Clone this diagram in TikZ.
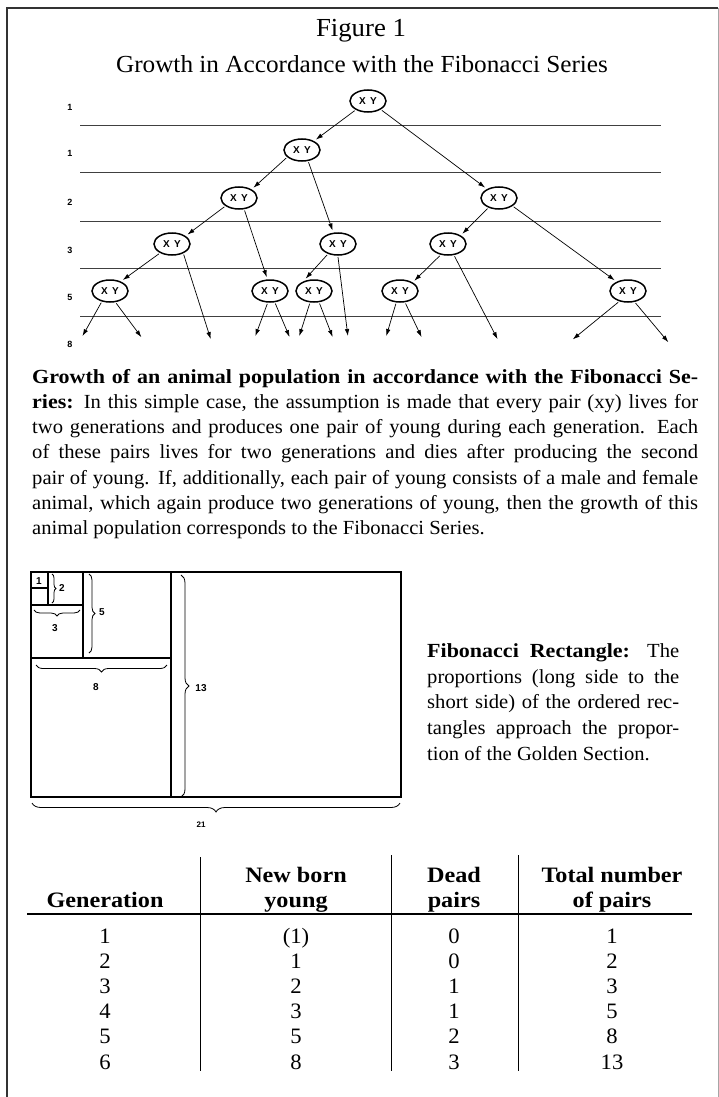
\documentclass[tikz,border=0pt]{standalone}
\usepackage{fontspec}
\setmainfont{Liberation Serif}[FakeStretch=1.03, BoldFeatures={FakeStretch=1.1}]
\newfontfamily\lsans{Liberation Sans}
\usetikzlibrary{shapes.geometric,arrows.meta,decorations.pathreplacing}
\tikzset{
  pair/.style={ellipse, draw, line width=1.5pt, minimum width=36pt, minimum height=22pt,
    inner sep=0pt, outer sep=2pt, font=\lsans\bfseries\fontsize{10}{10}\selectfont},
  arr/.style={line width=0.7pt, -{Latex[length=7pt,width=4.5pt]}, shorten >=1pt},
  genline/.style={line width=0.9pt, black!75},
  rowlab/.style={font=\lsans\bfseries\fontsize{9}{9}\selectfont, inner sep=0pt},
  rectline/.style={line width=1.8pt},
  brc/.style={decorate, decoration={brace, amplitude=#1}, line width=0.8pt},
  rlab/.style={font=\lsans\bfseries\fontsize{10}{10}\selectfont, inner sep=0pt},
  ptext/.style={anchor=base west, inner sep=0pt, font=\fontsize{20}{26}\selectfont},
  rtext/.style={anchor=base west, inner sep=0pt, font=\fontsize{20}{25}\selectfont},
  thead/.style={anchor=base, inner sep=0pt, font=\bfseries\fontsize{22}{24}\selectfont},
  tnum/.style={anchor=base, inner sep=0pt, font=\fontsize{22}{22}\selectfont},
}
\begin{document}
\begin{tikzpicture}[x=1pt,y=-1pt]
\useasboundingbox (0,0) rectangle (719,1097);
% frame
\draw[line width=1.3pt, black!80] (7,1097) -- (7,8) -- (718,8);
\draw[line width=0.6pt, black!35] (718,8) -- (718,1097);
% titles
\node[anchor=base, inner sep=0pt, font=\fontsize{26}{26}\selectfont] (fig) at (361,37) {Figure 1};
\node[anchor=base, inner sep=0pt, font=\fontsize{24.5}{24.5}\selectfont] (sub) at (362,73) {Growth in Accordance with the Fibonacci Series};
% generation lines
\foreach \yy in {125,172,221,268,316} \draw[genline] (80,\yy) -- (661,\yy);
% row labels
\node[rowlab] (r1) at (70,107) {1};
\node[rowlab] (r2) at (70,153) {1};
\node[rowlab] (r3) at (70,202) {2};
\node[rowlab] (r4) at (70,250) {3};
\node[rowlab] (r5) at (70,297) {5};
\node[rowlab] (r6) at (70,344) {8};
% pairs
\node[pair] (L0) at (368,101) {X\hspace{0.45em}Y};
\node[pair] (L1) at (302,150) {X\hspace{0.45em}Y};
\node[pair] (L2a) at (239,198) {X\hspace{0.45em}Y};
\node[pair] (L2b) at (499,198) {X\hspace{0.45em}Y};
\node[pair] (L3a) at (172,244) {X\hspace{0.45em}Y};
\node[pair] (L3b) at (338,244) {X\hspace{0.45em}Y};
\node[pair] (L3c) at (448,244) {X\hspace{0.45em}Y};
\node[pair] (L4a) at (110,291) {X\hspace{0.45em}Y};
\node[pair] (L4b) at (270,291) {X\hspace{0.45em}Y};
\node[pair] (L4c) at (314,291) {X\hspace{0.45em}Y};
\node[pair] (L4d) at (400,291) {X\hspace{0.45em}Y};
\node[pair] (L4e) at (628,291) {X\hspace{0.45em}Y};
% free ends
\coordinate (e1) at (211,340);
\coordinate (e2) at (348,337);
\coordinate (e3) at (498,340);
\coordinate (e4) at (82,337);
\coordinate (e5) at (142,338);
\coordinate (e6) at (255,337);
\coordinate (e7) at (290,338);
\coordinate (e8) at (299,337);
\coordinate (e9) at (333,338);
\coordinate (e10) at (386,337);
\coordinate (e11) at (422,338);
\coordinate (e12) at (572,340);
\coordinate (e13) at (669,343);
% arrows
\draw[arr] (L0.-144) -- (L1.37);
\draw[arr] (L0.-34) -- (L2b.143);
\draw[arr] (L1.-153) -- (L2a.35);
\draw[arr] (L1.-62) -- (L3b.112);
\draw[arr] (L2a.-149) -- (L3a.31);
\draw[arr] (L2a.-66) -- (L4b.103);
\draw[arr] (L2b.-137) -- (L3c.35);
\draw[arr] (L2b.-31) -- (L4e.141);
\draw[arr] (L3a.-143) -- (L4a.41);
\draw[arr] (L3a.-42) -- (e1);
\draw[arr] (L3b.-90) -- (e2);
\draw[arr] (L3b.-135) -- (L4c.128);
\draw[arr] (L3c.-125) -- (L4d.35);
\draw[arr] (L3c.-62) -- (e3);
\draw[arr] (L4a.-127) -- (e4);
\draw[arr] (L4a.-63) -- (e5);
\draw[arr] (L4b.-102) -- (e6);
\draw[arr] (L4b.-67) -- (e7);
\draw[arr] (L4c.-109) -- (e8);
\draw[arr] (L4c.-66) -- (e9);
\draw[arr] (L4d.-108) -- (e10);
\draw[arr] (L4d.-66) -- (e11);
\draw[arr] (L4e.-131) -- (e12);
\draw[arr] (L4e.-58) -- (e13);
% paragraph
\node[ptext] (p1) at (32,383) {\makebox[666pt][s]{\bfseries Growth of an animal population in accordance with the Fibonacci Se-}};
\node[ptext] (p2) at (32,408.3) {\makebox[666pt][s]{\textbf{ries:} In this simple case, the assumption is made that every pair (xy) lives for}};
\node[ptext] (p3) at (32,433.6) {\makebox[666pt][s]{two generations and produces one pair of young during each generation. Each}};
\node[ptext] (p4) at (32,458.9) {\makebox[666pt][s]{of these pairs lives for two generations and dies after producing the second}};
\node[ptext] (p5) at (32,484.2) {\makebox[666pt][s]{pair of young. If, additionally, each pair of young consists of a male and female}};
\node[ptext] (p6) at (32,509.5) {\makebox[666pt][s]{animal, which again produce two generations of young, then the growth of this}};
\node[ptext] (p7) at (32,534.8) {animal population corresponds to the Fibonacci Series.};
% Fibonacci rectangle
\draw[rectline] (31,572) rectangle (401,797);
\draw[rectline] (171,572) -- (171,797);
\draw[rectline] (31,658) -- (171,658);
\draw[rectline] (83,572) -- (83,658);
\draw[rectline] (31,605) -- (83,605);
\draw[rectline] (48,572) -- (48,605);
\draw[rectline] (31,588) -- (48,588);
\draw[brc=4pt] (52,574) -- (52,603);
\draw[brc=6pt] (80,610) -- (34,610);
\draw[brc=6pt] (89,574) -- (89,653);
\draw[brc=7pt] (167,665) -- (36,665);
\draw[brc=8pt] (181,575) -- (181,797);
\draw[brc=9pt] (400,803) -- (32,803);
\node[rlab] (n1) at (39,581) {1};
\node[rlab] (n2) at (62,588) {2};
\node[rlab] (n3) at (55,628) {3};
\node[rlab] (n5) at (102,612) {5};
\node[rlab] (n8) at (96,687) {8};
\node[rlab] (n13) at (201,688) {13};
\node[rlab, font=\lsans\bfseries\fontsize{8}{8}\selectfont] (n21) at (201,825) {21};
% right text
\node[rtext] (q1) at (427,657) {\makebox[252pt][s]{\bfseries Fibonacci Rectangle:\mdseries{} The}};
\node[rtext] (q2) at (427,683) {\makebox[252pt][s]{proportions (long side to the}};
\node[rtext] (q3) at (427,708) {\makebox[252pt][s]{short side) of the ordered rec-}};
\node[rtext] (q4) at (427,734) {\makebox[252pt][s]{tangles approach the propor-}};
\node[rtext] (q5) at (427,760) {tion of the Golden Section.};
% table
\draw[line width=1.4pt] (27,914) -- (692,914);
\draw[line width=1pt] (200,857) -- (200,1071);
\draw[line width=1pt] (391,855) -- (391,1071);
\draw[line width=1pt] (518,855) -- (518,1071);
\node[thead] (h1) at (105,907) {Generation};
\node[thead] (h2a) at (296,882) {New born};
\node[thead] (h2b) at (296,907) {young};
\node[thead] (h3a) at (454,882) {Dead};
\node[thead] (h3b) at (454,907) {pairs};
\node[thead] (h4a) at (612,882) {Total number};
\node[thead] (h4b) at (612,907) {of pairs};
\foreach \g/\n/\d/\t [count=\i from 0] in {1/(1)/0/1, 2/1/0/2, 3/2/1/3, 4/3/1/5, 5/5/2/8, 6/8/3/13} {
  \pgfmathsetmacro{\yb}{943+25.2*\i}
  \node[tnum] (c1r\i) at (105,\yb) {\g};
  \node[tnum] (c2r\i) at (296,\yb) {\n};
  \node[tnum] (c3r\i) at (454,\yb) {\d};
  \node[tnum] (c4r\i) at (612,\yb) {\t};
}
\end{tikzpicture}
\end{document}
